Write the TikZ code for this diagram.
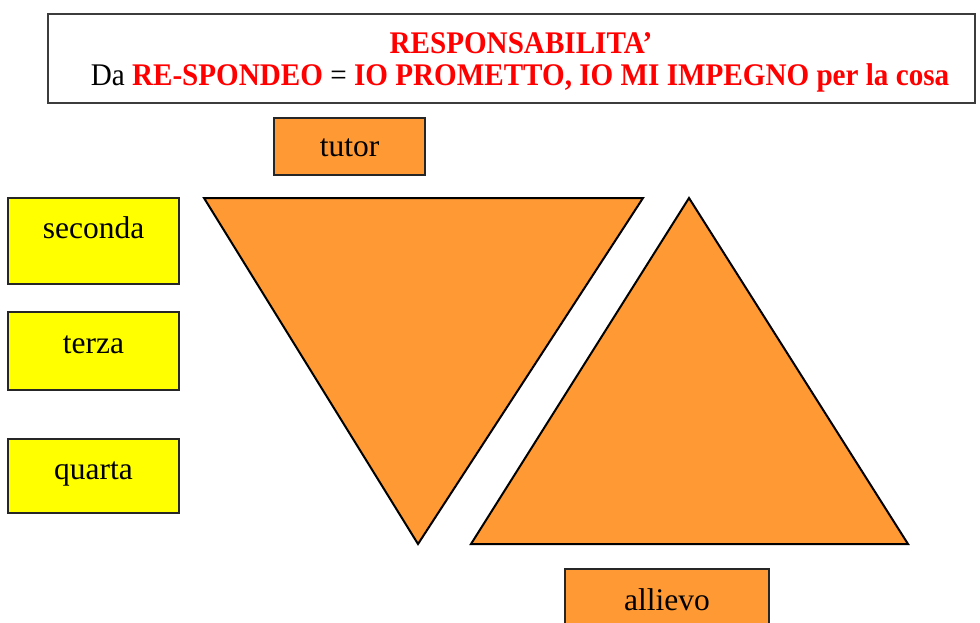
\documentclass[tikz,border=0pt]{standalone}
\usepackage{fontspec}
\setmainfont{Liberation Serif}
\definecolor{boxorange}{RGB}{255,153,51}
\definecolor{boxyellow}{RGB}{255,255,0}
\definecolor{titlered}{RGB}{255,0,0}
\definecolor{framegray}{RGB}{60,60,60}
% heading lines are set in a slightly narrowed serif
\newcommand{\narrowhead}[1]{\scalebox{0.925}[1]{#1}}
\begin{document}
\begin{tikzpicture}[x=1pt,y=-1pt,
  framebox/.style={draw=framegray,line width=1.4pt,fill=white,inner sep=0pt},
  orangebox/.style={draw=black!85,line width=1.3pt,fill=boxorange,inner sep=0pt},
  yellowbox/.style={draw=black!85,line width=1.3pt,fill=boxyellow,inner sep=0pt},
  wedge/.style={draw=black,line width=2pt,fill=boxorange,line join=miter},
  boxtext/.style={anchor=base,inner sep=0pt,font=\fontsize{31.5}{36}\selectfont},
  titletext/.style={anchor=base,inner sep=0pt,font=\fontsize{31.5}{36}\selectfont}]
\clip (0,0) rectangle (980,623);
\useasboundingbox (0,0) rectangle (980,623);

% title frame
\node[framebox,minimum width=927,minimum height=89] (title) at (511.5,58.5) {};
\node[titletext,text=titlered] (t1) at (521,53.3) {\narrowhead{\bfseries RESPONSABILITA'}};
\node[titletext] (t2) at (520,86) {\narrowhead{Da \textcolor{titlered}{\bfseries RE-SPONDEO} = \textcolor{titlered}{\bfseries IO PROMETTO, IO MI IMPEGNO per la cosa}}};

% role boxes
\node[orangebox,minimum width=151,minimum height=57] (tutor) at (349.5,146.5) {};
\node[boxtext] (tutorlbl) at (349.5,157) {tutor};
\node[orangebox,minimum width=204,minimum height=66] (allievo) at (667,602) {};
\node[boxtext] (allievolbl) at (667,610) {allievo};

% level boxes
\node[yellowbox,minimum width=171,minimum height=86] (seconda) at (93.5,241) {};
\node[boxtext] (secondalbl) at (93.5,238) {seconda};
\node[yellowbox,minimum width=171,minimum height=78] (terza) at (93.5,351) {};
\node[boxtext] (terzalbl) at (93.5,353) {terza};
\node[yellowbox,minimum width=171,minimum height=74] (quarta) at (93.5,476) {};
\node[boxtext] (quartalbl) at (93.5,479) {quarta};

% downward triangle
\coordinate (dA) at (204,198);
\coordinate (dB) at (643,198);
\coordinate (dC) at (418,544);
\draw[wedge] (dA) -- (dB) -- (dC) -- cycle;

% upward triangle
\coordinate (uA) at (689,198);
\coordinate (uB) at (908,544);
\coordinate (uC) at (471,544);
\draw[wedge] (uA) -- (uB) -- (uC) -- cycle;
\end{tikzpicture}
\end{document}
